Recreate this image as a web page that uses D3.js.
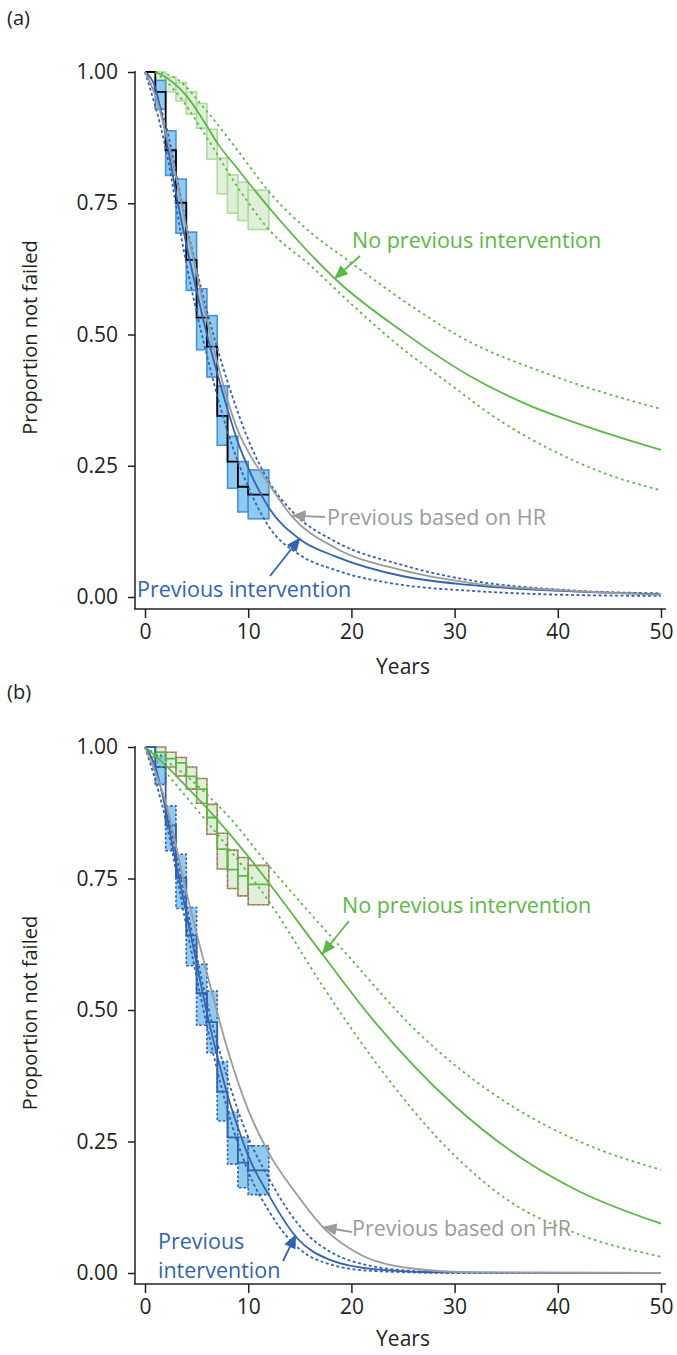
<!DOCTYPE html>
<html>
<head>
<meta charset="utf-8">
<script src="https://cdnjs.cloudflare.com/ajax/libs/d3/7.8.5/d3.min.js"></script>
<style>
  body { margin: 0; background: #fff; }
  svg { font-family: "Open Sans", "Noto Sans", sans-serif; }
</style>
</head>
<body>
<div id="chart"></div>
<script>
const svgWidth = 677
const svgHeight = 1355

const xTicks = [0, 10, 20, 30, 40, 50]
const yTicks = [0, 0.25, 0.5, 0.75, 1]

// Kaplan-Meier steps (same data in both panels)
const kmTimes = [0, 1, 2, 3, 4, 5, 6, 7, 8, 9, 10, 12]
const kmBlue = [1, 0.962, 0.851, 0.751, 0.642, 0.532, 0.477, 0.345, 0.258, 0.210, 0.195]
const kmBlueHi = [0.984, 0.888, 0.796, 0.695, 0.587, 0.536, 0.402, 0.306, 0.258, 0.242]
const kmBlueLo = [0.929, 0.803, 0.693, 0.584, 0.471, 0.419, 0.289, 0.207, 0.162, 0.149]
const kmGreen = [1, 0.990, 0.978, 0.970, 0.944, 0.920, 0.866, 0.806, 0.767, 0.755, 0.739]
const kmGreenHi = [1.000, 0.990, 0.980, 0.962, 0.940, 0.891, 0.836, 0.804, 0.790, 0.775]
const kmGreenLo = [0.980, 0.962, 0.945, 0.920, 0.893, 0.834, 0.768, 0.731, 0.717, 0.700]

// panel (a) fitted curves [years, proportion]
const aGreenFit = [[1, 1], [2, 0.99], [4, 0.955], [6, 0.897], [7, 0.865], [9, 0.815], [10, 0.79], [13.4, 0.71], [18.7, 0.601], [25, 0.505], [31.3, 0.423], [37, 0.367], [42.6, 0.326], [50, 0.28]]
const aGreenHi = [[1, 1], [3, 0.988], [6, 0.925], [9, 0.85], [12.1, 0.77], [16, 0.695], [19.4, 0.645], [22.7, 0.597], [26.5, 0.545], [30.6, 0.495], [39.3, 0.423], [50, 0.358]]
const aGreenLo = [[1, 1], [3, 0.962], [6, 0.875], [9, 0.78], [12, 0.70], [16, 0.632], [20, 0.558], [24.7, 0.477], [29.3, 0.409], [34.3, 0.337], [39.3, 0.281], [44.2, 0.238], [50, 0.203]]
const aBlueFit = [[0, 1], [1, 0.97], [2, 0.88], [3, 0.77], [4, 0.672], [5, 0.583], [6, 0.5], [7, 0.426], [8, 0.357], [9, 0.295], [10, 0.246], [12, 0.17], [15, 0.11], [18.5, 0.077], [24.9, 0.04], [31.4, 0.023], [41, 0.011], [50, 0.005]]
const aBlueHi = [[0, 1], [2, 0.9], [4, 0.71], [6, 0.545], [8, 0.41], [10, 0.3], [12, 0.22], [14.3, 0.162], [18.5, 0.105], [24.9, 0.061], [31.4, 0.032], [41, 0.013], [50, 0.007]]
const aBlueLo = [[0, 1], [2, 0.855], [4, 0.635], [6, 0.46], [8, 0.315], [10, 0.21], [12, 0.134], [15, 0.08], [18.5, 0.051], [24.9, 0.023], [31.4, 0.012], [41, 0.004], [50, 0.002]]
const aGrayHR = [[0, 1], [1, 0.955], [2, 0.885], [3, 0.8], [4, 0.705], [5, 0.617], [6, 0.528], [7, 0.447], [8, 0.375], [9, 0.317], [10, 0.277], [12, 0.215], [14.3, 0.152], [18.5, 0.093], [24.9, 0.051], [31.4, 0.027], [41, 0.012], [50, 0.004]]

// panel (b) fitted curves
const bGreenFit = [[0, 1], [2, 0.965], [4, 0.925], [7, 0.862], [10, 0.792], [12.06, 0.74], [17.3, 0.603], [22.4, 0.474], [30, 0.318], [37.2, 0.209], [42.1, 0.155], [50, 0.094]]
const bGreenHi = [[0, 1], [4, 0.945], [8, 0.87], [12.06, 0.773], [19.1, 0.616], [26.3, 0.46], [35.5, 0.318], [42.1, 0.25], [50, 0.196]]
const bGreenLo = [[0, 1], [4, 0.905], [8, 0.81], [12.06, 0.705], [17.1, 0.549], [22.4, 0.399], [29, 0.243], [35.5, 0.134], [42.1, 0.073], [50, 0.031]]
const bBlueFit = [[0, 1], [1, 0.963], [2, 0.881], [3, 0.779], [4, 0.684], [5, 0.589], [6, 0.494], [7, 0.413], [8, 0.338], [9, 0.277], [10, 0.223], [12, 0.148], [14.7, 0.067], [17.8, 0.026], [22.4, 0.007], [29, 0.001], [50, 0]]
const bBlueHi = [[0, 1], [2, 0.89], [4, 0.70], [6, 0.515], [8, 0.37], [10, 0.258], [12, 0.18], [14, 0.115], [16, 0.068], [18, 0.04], [22, 0.013], [27, 0.003], [35, 0], [50, 0]]
const bBlueLo = [[0, 1], [2, 0.862], [4, 0.66], [6, 0.47], [8, 0.31], [10, 0.193], [12, 0.118], [13, 0.088], [15, 0.045], [18, 0.016], [22, 0.004], [30, 0], [50, 0]]
const bGrayHR = [[0, 1], [2, 0.895], [4, 0.725], [6, 0.57], [8, 0.425], [10, 0.31], [12, 0.228], [14.5, 0.155], [17.5, 0.082], [20.4, 0.04], [25.7, 0.009], [32, 0.001], [50, 0]]

const green = "#5bb846"
const blue = "#3263b0"
const gray = "#9b9b9b"
const ink = "#231f20"

let svg = d3
  .select("#chart")
  .append("svg")
  .attr("width", svgWidth)
  .attr("height", svgHeight)

let defs = svg.append("defs")
;[["green", green], ["blue", blue], ["gray", gray]].forEach(([id, col]) => {
  defs.append("marker")
    .attr("id", "arrow-" + id)
    .attr("markerUnits", "userSpaceOnUse")
    .attr("viewBox", "0 0 14 12")
    .attr("refX", 13)
    .attr("refY", 6)
    .attr("markerWidth", 14)
    .attr("markerHeight", 12)
    .attr("orient", "auto")
    .append("path")
    .attr("d", "M0,0 L14,6 L0,12 z")
    .attr("fill", col)
})

const panels = [
  {
    label: "(a)", labelY: 25, yTop: 72, yBottom: 597, axisY: 609, titleY: 674,
    greenFit: aGreenFit, greenHi: aGreenHi, greenLo: aGreenLo,
    blueFit: aBlueFit, blueHi: aBlueHi, blueLo: aBlueLo, grayHR: aGrayHR,
    style: "a",
    notes: [
      { lines: ["No previous intervention"], x: 352, y: 248, col: green, id: "green", from: [360, 256], tip: [18.4, 0.607] },
      { lines: ["Previous based on HR"], x: 327, y: 525, col: gray, id: "gray", from: [325, 517], tip: [14.3, 0.155] },
      { lines: ["Previous intervention"], x: 137, y: 597, col: blue, id: "blue", from: [270, 576], tip: [15, 0.112] }
    ]
  },
  {
    label: "(b)", labelY: 699, yTop: 747, yBottom: 1273, axisY: 1284, titleY: 1346,
    greenFit: bGreenFit, greenHi: bGreenHi, greenLo: bGreenLo,
    blueFit: bBlueFit, blueHi: bBlueHi, blueLo: bBlueLo, grayHR: bGrayHR,
    style: "b",
    notes: [
      { lines: ["No previous intervention"], x: 342, y: 913, col: green, id: "green", from: [349, 921], tip: [17.2, 0.607] },
      { lines: ["Previous based on HR"], x: 352, y: 1236, col: gray, id: "gray", from: [352, 1232], tip: [17.3, 0.087] },
      { lines: ["Previous", "intervention"], x: 158, y: 1249, col: blue, id: "blue", from: [283, 1261], tip: [14.6, 0.072] }
    ]
  }
]

function stepPoints(values) {
  return kmTimes.map((t, i) => [t, values[Math.min(i, values.length - 1)]])
}

function drawPanel(p) {
  let x = d3.scaleLinear().domain([0, 50]).range([145, 661])
  let y = d3.scaleLinear().domain([0, 1]).range([p.yBottom, p.yTop])
  let g = svg.append("g")

  let curve = d3.line().x(d => x(d[0])).y(d => y(d[1])).curve(d3.curveMonotoneX)
  let step = d3.line().x(d => x(d[0])).y(d => y(d[1])).curve(d3.curveStepAfter)

  // confidence boxes of the KM curves
  let starts = kmTimes.slice(1, -1)
  let ends = kmTimes.slice(2)
  function boxes(hi, lo, fill, stroke, dash) {
    let sel = g.append("g").selectAll("rect")
      .data(starts.map((t, i) => ({ t0: t, t1: ends[i], hi: hi[i], lo: lo[i] })))
      .enter()
      .append("rect")
      .attr("x", d => x(d.t0))
      .attr("y", d => y(d.hi))
      .attr("width", d => x(d.t1) - x(d.t0))
      .attr("height", d => y(d.lo) - y(d.hi))
      .attr("fill", fill)
      .attr("stroke", stroke)
      .attr("stroke-width", 1.6)
    if (dash) sel.attr("stroke-dasharray", dash)
    return sel
  }

  if (p.style === "a") {
    boxes(kmGreenHi, kmGreenLo, "#e0f0d8", "#afdb9d")
    boxes(kmBlueHi, kmBlueLo, "#8fcaf0", "#4891d2")
    g.append("path").datum(stepPoints(kmBlue))
      .attr("d", step).attr("fill", "none").attr("stroke", "#000").attr("stroke-width", 1.8)
  } else {
    boxes(kmGreenHi, kmGreenLo, "#e0f0d8", "#e8417f", "2.5,2.5")
    boxes(kmGreenHi, kmGreenLo, "none", green, "2.5,2.5").attr("stroke-dashoffset", 2.5)
    boxes(kmBlueHi, kmBlueLo, "#8fcaf0", "#2f5fae", "2.5,2")
    g.append("path").datum(stepPoints(kmGreen))
      .attr("d", step).attr("fill", "none").attr("stroke", green).attr("stroke-width", 1.8)
    g.append("path").datum(stepPoints(kmBlue))
      .attr("d", step).attr("fill", "none").attr("stroke", "#2f5fae").attr("stroke-width", 1.8)
  }

  // fitted curves
  let lines = [
    [p.greenHi, green, "2.5,3.5"], [p.greenLo, green, "2.5,3.5"], [p.greenFit, green, null],
    [p.blueHi, blue, "3,2.5"], [p.blueLo, blue, "3,2.5"], [p.blueFit, blue, null],
    [p.grayHR, gray, null]
  ]
  lines.forEach(([data, col, dash]) => {
    let path = g.append("path").datum(data)
      .attr("d", curve).attr("fill", "none").attr("stroke", col).attr("stroke-width", 1.8)
    if (dash) path.attr("stroke-dasharray", dash)
  })

  // axes
  let leftAxis = d3.axisLeft(y).tickValues(yTicks).tickFormat(d3.format(".2f")).tickSize(7).tickSizeOuter(0).tickPadding(10)
  let yAxis = g.append("g").attr("transform", "translate(135,0)").call(leftAxis)
  yAxis.select(".domain").remove()
  yAxis.selectAll("line").attr("stroke", ink).attr("stroke-width", 1.5)
  yAxis.selectAll("text").attr("font-size", 21).attr("fill", ink).attr("font-family", "Open Sans")

  let bottomAxis = d3.axisBottom(x).tickValues(xTicks).tickFormat(d3.format("d")).tickSize(9).tickSizeOuter(0).tickPadding(6)
  let xAxis = g.append("g").attr("transform", `translate(0,${p.axisY})`).call(bottomAxis)
  xAxis.select(".domain").remove()
  xAxis.selectAll("line").attr("stroke", ink).attr("stroke-width", 1.5)
  xAxis.selectAll("text").attr("font-size", 21).attr("fill", ink).attr("font-family", "Open Sans")

  g.append("line").attr("x1", 135).attr("x2", 135).attr("y1", y(1) - 1).attr("y2", p.axisY)
    .attr("stroke", ink).attr("stroke-width", 1.5)
  g.append("line").attr("x1", 134).attr("x2", 666).attr("y1", p.axisY).attr("y2", p.axisY)
    .attr("stroke", ink).attr("stroke-width", 1.5)

  g.append("text").attr("x", 403).attr("y", p.titleY).attr("text-anchor", "middle")
    .attr("font-size", 21).attr("fill", ink).text("Years")
  g.append("text")
    .attr("transform", `translate(37,${(p.yTop + p.yBottom) / 2 + 3}) rotate(-90)`)
    .attr("text-anchor", "middle").attr("font-size", 20).attr("fill", ink)
    .text("Proportion not failed")
  g.append("text").attr("x", 7).attr("y", p.labelY).attr("font-size", 20).attr("fill", ink).text(p.label)

  // annotations
  p.notes.forEach(n => {
    n.lines.forEach((s, i) => {
      g.append("text").attr("x", n.x).attr("y", n.y + i * 29).attr("font-size", 21.5)
        .attr("fill", n.col).text(s)
    })
    g.append("line")
      .attr("x1", n.from[0]).attr("y1", n.from[1])
      .attr("x2", x(n.tip[0])).attr("y2", y(n.tip[1]))
      .attr("stroke", n.col).attr("stroke-width", 1.8)
      .attr("marker-end", `url(#arrow-${n.id})`)
  })
}

panels.forEach(drawPanel)
</script>
</body>
</html>
